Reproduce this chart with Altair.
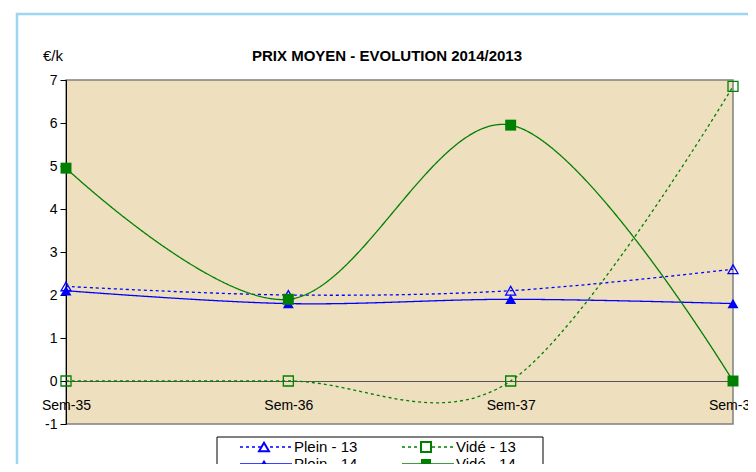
import altair as alt
import pandas as pd

weeks = ["Sem-35", "Sem-36", "Sem-37", "Sem-38"]
series_names = ["Plein - 13", "Plein - 14", "Vidé - 13", "Vidé - 14"]
plein_13 = [2.2, 2.0, 2.1, 2.6]
plein_14 = [2.1, 1.8, 1.9, 1.8]
vide_13 = [0.0, 0.0, 0.0, 6.85]
vide_14 = [4.95, 1.9, 5.95, 0.0]
y_ticks = [-1, 0, 1, 2, 3, 4, 5, 6, 7]

values = [plein_13, plein_14, vide_13, vide_14]
rows = []
for name, vals in zip(series_names, values):
    for w, v in zip(weeks, vals):
        rows.append({"week": w, "value": v, "series": name,
                     "kind": "Plein" if name.startswith("Plein") else "Vidé",
                     "open": name.endswith("13")})
df = pd.DataFrame(rows)

BLUE = "#0000FF"
GREEN = "#008000"
FONT = "Liberation Sans"
W, H = 667, 344

color = alt.Color("series:N", scale=alt.Scale(domain=series_names, range=[BLUE, BLUE, GREEN, GREEN]), legend=None)
dash = alt.StrokeDash("series:N", scale=alt.Scale(domain=series_names, range=[[3, 3], [1, 0], [3, 3], [1, 0]]), legend=None)
xenc = alt.X("week:N", sort=weeks, scale=alt.Scale(type="point", padding=0),
             axis=alt.Axis(title=None, labelAngle=0, ticks=False, offset=-(H / 8), domainColor="#555555",
                           labelFont=FONT, labelFontSize=14, labelColor="#000000", labelPadding=17,
                           labelBound=False, labelFlush=False))
yenc = alt.Y("value:Q", scale=alt.Scale(domain=[-1, 7], nice=False),
             axis=alt.Axis(title=None, values=y_ticks, grid=False, domainColor="#000000", tickColor="#000000",
                           tickSize=6, labelFont=FONT, labelFontSize=14, labelColor="#000000", labelPadding=3,
                           labelExpr="'' + datum.value"))

base = alt.Chart(df)
lines = base.mark_line(interpolate="cardinal", strokeWidth=1.3).encode(x=xenc, y=yenc, color=color, strokeDash=dash, detail="series:N")
shape = alt.Shape("kind:N", scale=alt.Scale(domain=["Plein", "Vidé"], range=["triangle-up", "square"]), legend=None)
pts_filled = base.transform_filter("!datum.open").mark_point(filled=True, size=120, opacity=1).encode(
    x=xenc, y=yenc, color=color, shape=shape)
pts_open = base.transform_filter("datum.open").mark_point(filled=False, size=100, strokeWidth=1.3, opacity=1).encode(
    x=xenc, y=yenc, color=color, shape=shape)

one = alt.Data(values=[{}])
frame = alt.Chart(one).mark_rect(fill=None, stroke="#9DD6F3", strokeWidth=2.5).encode(
    x=alt.value(-49), x2=alt.value(760), y=alt.value(-66), y2=alt.value(420))
title = alt.Chart(one).mark_text(text="PRIX MOYEN - EVOLUTION 2014/2013", font=FONT, fontSize=15, fontWeight="bold",
                                 color="#000000", align="center", baseline="middle").encode(x=alt.value(321), y=alt.value(-24))
unit = alt.Chart(one).mark_text(text="€/k", font=FONT, fontSize=15, color="#000000", align="left",
                                baseline="middle").encode(x=alt.value(-23), y=alt.value(-24))

layers = [frame, lines, pts_open, pts_filled, title, unit]

legbox = alt.Chart(one).mark_rect(fill="#FFFFFF", stroke="#000000", strokeWidth=1).encode(
    x=alt.value(151), x2=alt.value(477), y=alt.value(357), y2=alt.value(420))
layers.append(legbox)
legend_items = [
    ("Plein - 13", BLUE, [3, 3], "triangle-up", False, 174, 367),
    ("Plein - 14", BLUE, [1, 0], "triangle-up", True, 174, 384),
    ("Vidé - 13", GREEN, [3, 3], "square", False, 336, 367),
    ("Vidé - 14", GREEN, [1, 0], "square", True, 336, 384),
]
for label, col, dsh, shp, fil, lx, ly in legend_items:
    layers.append(alt.Chart(one).mark_rule(color=col, strokeDash=dsh, strokeWidth=1.3).encode(
        x=alt.value(lx), x2=alt.value(lx + 52), y=alt.value(ly)))
    layers.append(alt.Chart(one).mark_point(shape=shp, filled=fil, color=col, size=100, opacity=1,
                                            fill=col if fil else "#FFFFFF").encode(
        x=alt.value(lx + 24), y=alt.value(ly)))
    layers.append(alt.Chart(one).mark_text(text=label, font=FONT, fontSize=15, color="#000000", align="left",
                                           baseline="middle").encode(x=alt.value(lx + 54), y=alt.value(ly)))

chart = alt.layer(*layers).properties(
    width=W, height=H,
    autosize=alt.AutoSizeParams(type="none"),
    padding={"left": 58, "top": 72, "right": 15, "bottom": 40},
    background="#FFFFFF",
).configure_view(fill="#EEDFBF", stroke="#808080", strokeWidth=1.5)

chart.save("out.html", embed_options={"renderer": "svg", "actions": False})
